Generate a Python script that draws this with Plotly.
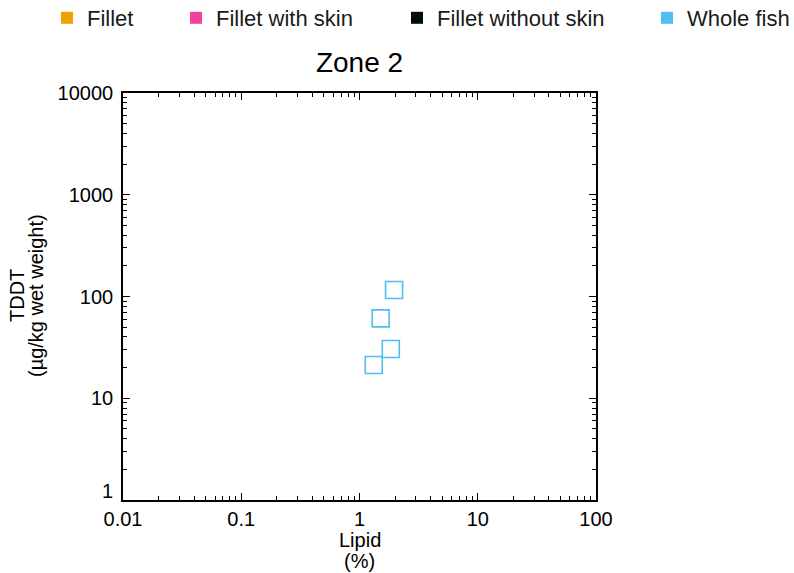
import plotly.graph_objects as go

# Data
lipid_whole = [1.96, 1.51, 1.84, 1.32]
tddt_whole = [116, 61, 30.5, 21.2]
categories = ["Fillet", "Fillet with skin", "Fillet without skin", "Whole fish"]
cat_colors = ["#F0A000", "#F040A0", "#001000", "#50BEF0"]
x_tickvals = [0.01, 0.1, 1, 10, 100]
x_ticktext = ["0.01", "0.1", "1", "10", "100"]
y_tickvals = [1, 10, 100, 1000, 10000]
y_ticktext = ["1", "10", "100", "1000", "10000"]

W, H = 794, 573
L, R, T, B = 123, 596, 93, 500

FONT = "Liberation Sans, Arial, sans-serif"

fig = go.Figure()

# legend item start positions (px)
leg_x = [47, 176, 397, 647]
legend_names = ["legend", "legend2", "legend3", "legend4"]
for i, (name, col) in enumerate(zip(categories, cat_colors)):
    fig.add_trace(go.Scatter(
        x=[None], y=[None], mode="markers", name=name,
        marker=dict(symbol="square", size=12, color=col),
        legend=legend_names[i], showlegend=True))

fig.add_trace(go.Scatter(
    x=lipid_whole, y=tddt_whole, mode="markers", showlegend=False,
    marker=dict(symbol="square-open", size=17, color=cat_colors[3],
                line=dict(width=1.6, color=cat_colors[3]))))

legend_common = dict(orientation="h", xref="container", yref="container",
                     xanchor="left", yanchor="middle", bgcolor="rgba(0,0,0,0)",
                     font=dict(family=FONT, size=22, color="#1a1a1a"),
                     borderwidth=0, itemclick=False)
layout_legends = {}
for i, ln in enumerate(legend_names):
    layout_legends[ln] = dict(legend_common, x=leg_x[i] / W, y=1 - 18 / H)

axis_common = dict(
    type="log", showgrid=False, zeroline=False, showline=True,
    linecolor="black", linewidth=1.6, mirror="allticks",
    ticks="inside", ticklen=7, tickwidth=1.3, tickcolor="black",
    tickfont=dict(family=FONT, size=20, color="black"),
    minor=dict(ticks="inside", ticklen=4, tickwidth=1.1, tickcolor="black", dtick="D1"),
)

# lowest y label is raised slightly above its tick (as in the reference)
y_ticktext_axis = [""] + y_ticktext[1:]

fig.update_layout(
    width=W, height=H,
    margin=dict(l=L, r=W - R, t=T, b=H - B, pad=0),
    paper_bgcolor="white", plot_bgcolor="white",
    font=dict(family=FONT, color="black"),
    title=dict(text="Zone 2", x=((L + R) / 2) / W, xanchor="center",
               y=1 - 62 / H, yanchor="middle",
               font=dict(family=FONT, size=28, color="black")),
    xaxis=dict(axis_common, range=[-2, 2], tickvals=x_tickvals, ticktext=x_ticktext,
               ticklabelstandoff=0),
    yaxis=dict(axis_common, range=[0, 4], tickvals=y_tickvals, ticktext=y_ticktext_axis,
               ticklabelstandoff=4),
    **layout_legends,
)

fig.add_annotation(text=y_ticktext[0], xref="paper", yref="y", x=0, y=0,
                   xanchor="right", yanchor="middle", xshift=-8, yshift=9,
                   showarrow=False, font=dict(family=FONT, size=20, color="black"))

# axis titles (two tight lines each)
fig.add_annotation(text="Lipid", xref="paper", yref="paper", x=0.5,
                   y=(B - 540) / (B - T), xanchor="center", yanchor="middle",
                   showarrow=False, font=dict(family=FONT, size=20, color="black"))
fig.add_annotation(text="(%)", xref="paper", yref="paper", x=0.5,
                   y=(B - 561) / (B - T), xanchor="center", yanchor="middle",
                   showarrow=False, font=dict(family=FONT, size=20, color="black"))
fig.add_annotation(text="TDDT", xref="paper", yref="paper",
                   x=(17 - L) / (R - L), y=(B - 296) / (B - T),
                   xanchor="center", yanchor="middle", textangle=-90,
                   showarrow=False, font=dict(family=FONT, size=20, color="black"))
fig.add_annotation(text="(µg/kg wet weight)", xref="paper", yref="paper",
                   x=(36 - L) / (R - L), y=(B - 296) / (B - T),
                   xanchor="center", yanchor="middle", textangle=-90,
                   showarrow=False, font=dict(family=FONT, size=20, color="black"))

fig.write_html("out.html")
